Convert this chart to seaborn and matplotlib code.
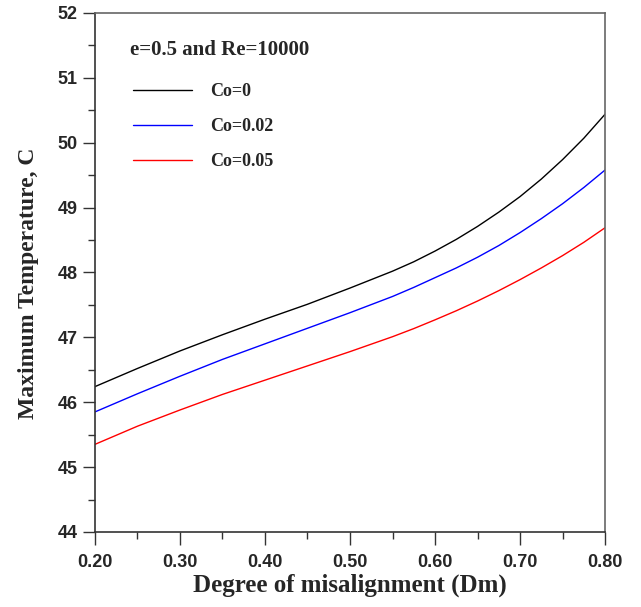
import numpy as np
import pandas as pd
import matplotlib
matplotlib.use("Agg")
import matplotlib.pyplot as plt
import seaborn as sns
from matplotlib.ticker import MultipleLocator

dm = [0.20, 0.25, 0.30, 0.35, 0.40, 0.45, 0.50, 0.55, 0.575, 0.60,
      0.625, 0.65, 0.675, 0.70, 0.725, 0.75, 0.775, 0.80]
t_co0 = [46.24, 46.52, 46.79, 47.04, 47.28, 47.51, 47.76, 48.02, 48.165, 48.33,
         48.51, 48.71, 48.93, 49.17, 49.44, 49.74, 50.07, 50.44]
t_co002 = [45.85, 46.13, 46.40, 46.66, 46.90, 47.14, 47.38, 47.63, 47.77, 47.92,
           48.07, 48.235, 48.415, 48.615, 48.83, 49.06, 49.31, 49.58]
t_co005 = [45.35, 45.63, 45.88, 46.12, 46.34, 46.56, 46.78, 47.01, 47.135, 47.27,
           47.41, 47.56, 47.72, 47.89, 48.07, 48.26, 48.465, 48.69]
labels = ["Co=0", "Co=0.02", "Co=0.05"]
colors = ["black", "blue", "red"]
x_ticks = [0.20, 0.30, 0.40, 0.50, 0.60, 0.70, 0.80]

df = pd.concat([
    pd.DataFrame({"Dm": dm, "T": vals, "case": lab})
    for vals, lab in zip([t_co0, t_co002, t_co005], labels)
])

sns.set_style("white")
serif = ["Liberation Serif", "DejaVu Serif"]
sans = ["Liberation Sans", "DejaVu Sans"]

fig = plt.figure(figsize=(6.41, 6.07), dpi=100)
ax = fig.add_axes([0.148, 0.1236, 0.796, 0.855])

sns.lineplot(data=df, x="Dm", y="T", hue="case", palette=dict(zip(labels, colors)),
             linewidth=1.0, ax=ax)

ax.set_xlim(0.2, 0.8)
ax.set_ylim(44, 52)
ax.set_xticks(x_ticks)
ax.set_xticklabels([f"{v:.2f}" for v in x_ticks])
ax.xaxis.set_minor_locator(MultipleLocator(0.05))
ax.yaxis.set_major_locator(MultipleLocator(1))
ax.yaxis.set_minor_locator(MultipleLocator(0.5))
ax.tick_params(axis="both", which="major", direction="out", length=9, width=1,
               color="#333333", bottom=True, left=True, top=False, right=False)
ax.tick_params(axis="both", which="minor", direction="out", length=5, width=1,
               color="#333333", bottom=True, left=True, top=False, right=False)
ax.tick_params(axis="x", which="major", pad=7)
for lab in ax.get_xticklabels() + ax.get_yticklabels():
    lab.set_family(sans)
    lab.set_fontweight("bold")
    lab.set_fontsize(13)

for side in ["left", "bottom"]:
    ax.spines[side].set_color("#333333")
for side in ["top", "right"]:
    ax.spines[side].set_color("#666666")
for sp in ax.spines.values():
    sp.set_linewidth(1.2)

ax.set_xlabel("Degree of misalignment (Dm)", family=serif, fontweight="bold",
              fontsize=18, labelpad=2)
ax.set_ylabel("Maximum Temperature, C", family=serif, fontweight="bold", fontsize=17)
ax.yaxis.set_label_coords(-0.11, 0.48)

ax.text(0.0686, 0.929, "e=0.5 and Re=10000", transform=ax.transAxes,
        ha="left", va="center", family=serif, fontweight="bold", fontsize=15)
leg = ax.legend(loc="upper left", frameon=False, borderaxespad=0, borderpad=0,
                handlelength=3.27, handletextpad=1.0, labelspacing=1.0,
                bbox_to_anchor=(0.0745, 0.865),
                prop={"family": serif, "weight": "bold", "size": 13})

fig.savefig("out.png", dpi=100)
